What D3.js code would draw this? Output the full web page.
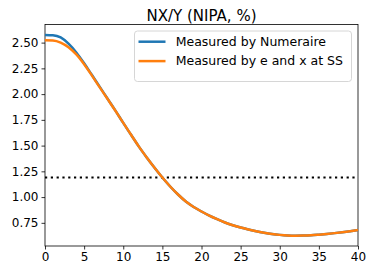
<!DOCTYPE html>
<html lang="en">
<head>
    <meta charset="UTF-8">
    <title>NX/Y (NIPA, %)</title>
    <script src="https://d3js.org/d3.v7.min.js"></script>
    <style>
        body { margin: 0; background: #fff; }
        text { font-family: "DejaVu Sans", sans-serif; fill: #000; }
    </style>
</head>
<body>
    <svg id="chart" width="368" height="265"></svg>

    <script>
        // Data
        const years = d3.range(0, 41);
        const numeraire = [2.575, 2.572, 2.55, 2.49, 2.405, 2.30, 2.185, 2.07, 1.955, 1.84,
            1.72, 1.605, 1.49, 1.385, 1.285, 1.19, 1.103, 1.025, 0.957, 0.904,
            0.86, 0.82, 0.785, 0.753, 0.727, 0.704, 0.685, 0.668, 0.654, 0.642,
            0.633, 0.627, 0.625, 0.626, 0.629, 0.635, 0.642, 0.65, 0.659, 0.669, 0.68];
        const eAndX = [2.522, 2.52, 2.50, 2.455, 2.385, 2.29, 2.18, 2.065, 1.952, 1.838,
            1.72, 1.605, 1.49, 1.385, 1.285, 1.19, 1.103, 1.025, 0.957, 0.904,
            0.86, 0.82, 0.785, 0.753, 0.727, 0.704, 0.685, 0.668, 0.654, 0.642,
            0.633, 0.627, 0.625, 0.626, 0.629, 0.635, 0.642, 0.65, 0.659, 0.669, 0.68];
        const steadyState = 1.19;
        const xTicks = [0, 5, 10, 15, 20, 25, 30, 35, 40];
        const yTicks = [0.75, 1.00, 1.25, 1.50, 1.75, 2.00, 2.25, 2.50];
        const seriesNames = ["Measured by Numeraire", "Measured by e and x at SS"];
        const colors = ["#1f77b4", "#ff7f0e"];

        const svg = d3.select("#chart");
        const margin = { top: 24.5, right: 10, bottom: 19, left: 45 };
        const width = 368 - margin.left - margin.right;
        const height = 265 - margin.top - margin.bottom;

        const g = svg.append("g")
            .attr("transform", `translate(${margin.left},${margin.top})`);

        const x = d3.scaleLinear().domain([0, 40]).range([0, width]);
        const y = d3.scaleLinear().domain([0.525, 2.676]).range([height, 0]);

        // axes
        const xAxis = g.append("g")
            .attr("transform", `translate(0,${height})`)
            .call(d3.axisBottom(x).tickValues(xTicks).tickSize(3.5).tickPadding(3).tickFormat(d3.format("d")));
        const yAxis = g.append("g")
            .call(d3.axisLeft(y).tickValues(yTicks).tickSize(3.5).tickPadding(3).tickFormat(d3.format(".2f")));
        [xAxis, yAxis].forEach(a => {
            a.select(".domain").remove();
            a.selectAll("text").style("font-size", "12px").attr("fill", "#000");
            a.selectAll("line").attr("stroke", "#000").attr("stroke-width", 0.8);
        });

        // frame
        g.append("rect")
            .attr("width", width).attr("height", height)
            .attr("fill", "none").attr("stroke", "#000").attr("stroke-width", 0.8);

        // steady state level
        g.append("line")
            .attr("x1", x(0)).attr("x2", x(40))
            .attr("y1", y(steadyState)).attr("y2", y(steadyState))
            .attr("stroke", "#000").attr("stroke-width", 2.2)
            .attr("stroke-dasharray", "2.2,3.6");

        const line = d3.line().x((d, i) => x(years[i])).y(d => y(d)).curve(d3.curveMonotoneX);
        [numeraire, eAndX].forEach((s, k) => {
            g.append("path")
                .datum(s)
                .attr("d", line)
                .attr("fill", "none")
                .attr("stroke", colors[k])
                .attr("stroke-width", 2.5);
        });

        // title
        svg.append("text")
            .attr("x", margin.left + width / 2).attr("y", 20.5)
            .attr("text-anchor", "middle")
            .style("font-size", "15px")
            .text("NX/Y (NIPA, %)");

        // legend
        const legend = svg.append("g").attr("transform", "translate(134.5,31)");
        legend.append("rect")
            .attr("width", 217).attr("height", 50.5).attr("rx", 3)
            .attr("fill", "#fff").attr("fill-opacity", 0.8)
            .attr("stroke", "#ccc").attr("stroke-width", 0.8);
        seriesNames.forEach((name, k) => {
            const ly = 10.7 + k * 19.4;
            legend.append("line")
                .attr("x1", 4).attr("x2", 31).attr("y1", ly).attr("y2", ly)
                .attr("stroke", colors[k]).attr("stroke-width", 2.5);
            legend.append("text")
                .attr("x", 41.2).attr("y", ly + 4.2)
                .style("font-size", "12.5px")
                .text(name);
        });
    </script>
</body>
</html>
